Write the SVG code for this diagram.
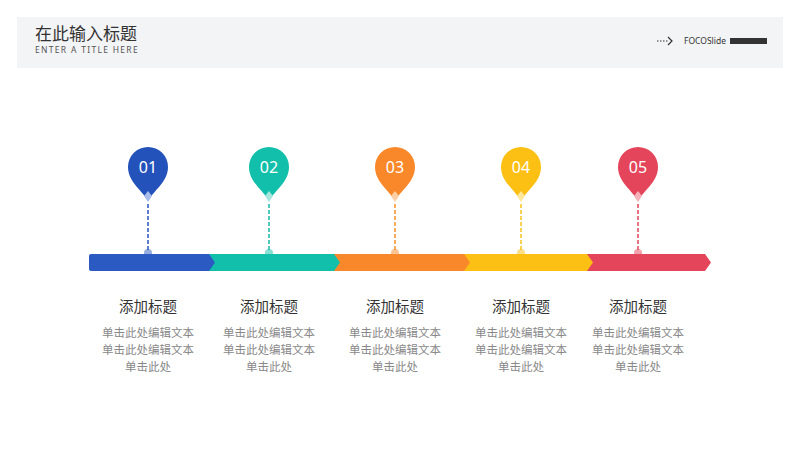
<svg xmlns="http://www.w3.org/2000/svg" width="800" height="450" viewBox="0 0 800 450">
<defs>
<style>
.t{font-family:"Noto Sans CJK SC","Noto Sans",sans-serif}
.num{font-family:"Noto Sans","Open Sans",sans-serif;font-size:16px;fill:#fff;text-anchor:middle}
.h{font-size:14.5px;fill:#333;text-anchor:middle}
.d{font-size:11.5px;fill:#888;text-anchor:middle}
.dash{stroke-width:1.5;stroke-dasharray:4 2}
</style>
<path id="pin" d="M0,201 C-6,190 -20,182 -20,167 A20,20 0 1 1 20,167 C20,182 6,190 0,201 Z"/>
<path id="dia" d="M0,191 L4,196 L0,202 L-4,196 Z"/>
</defs>
<rect width="800" height="450" fill="#fff"/>
<rect x="17" y="17" width="766" height="51" fill="#f3f4f6"/>
<text class="t" x="35" y="40" font-size="17" fill="#333">在此输入标题</text>
<text x="35" y="53" font-family="Noto Sans,sans-serif" font-size="8.5" letter-spacing="1.3" fill="#555">ENTER A TITLE HERE</text>
<g id="logo">
<line x1="657" y1="41" x2="668" y2="41" stroke="#333" stroke-dasharray="1.5 1.5"/>
<path d="M668,37 L672,41 L668,45" fill="none" stroke="#333" stroke-width="1.2"/>
<text x="684" y="44" font-family="Noto Sans,sans-serif" font-size="8.5" fill="#333">FOCOSlide</text>
<rect x="730" y="38" width="37" height="6" fill="#333"/>
</g>
<g id="connectors">
<line class="dash" x1="148" y1="204" x2="148" y2="250" stroke="#2a56c0"/>
<line class="dash" x1="269" y1="204" x2="269" y2="250" stroke="#17b7a8"/>
<line class="dash" x1="395" y1="204" x2="395" y2="250" stroke="#f9912a"/>
<line class="dash" x1="521" y1="204" x2="521" y2="250" stroke="#f8c31c"/>
<line class="dash" x1="638" y1="204" x2="638" y2="250" stroke="#e4455a"/>
</g>
<g id="bar">
<path d="M585,254 L705,254 L711,262.5 L705,271 L585,271 Z" fill="#e4455a"/>
<path d="M460,254 L587,254 L593,262.5 L587,271 L460,271 Z" fill="#fcc015"/>
<path d="M333,254 L464,254 L470,262.5 L464,271 L333,271 Z" fill="#f9882a"/>
<path d="M205,254 L334,254 L340,262.5 L334,271 L205,271 Z" fill="#12bfaa"/>
<path d="M91,254 L209,254 L215,262.5 L209,271 L91,271 Q89,271 89,269 L89,256 Q89,254 91,254 Z" fill="#2b5ac2"/>
<g fill-opacity="0.5">
<circle cx="148" cy="253" r="4" fill="#2b5ac2"/><circle cx="269" cy="253" r="4" fill="#12bfaa"/><circle cx="395" cy="253" r="4" fill="#f9882a"/><circle cx="521" cy="253" r="4" fill="#fcc015"/><circle cx="638" cy="253" r="4" fill="#e4455a"/>
</g>
</g>
<g id="n1" transform="translate(148,0)"><use href="#pin" fill="#2352bb"/><use href="#dia" fill="#a9bdea"/><text class="num" y="173">01</text>
<text class="t h" y="312">添加标题</text><text class="t d" y="337">单击此处编辑文本</text><text class="t d" y="354">单击此处编辑文本</text><text class="t d" y="371">单击此处</text></g>
<g id="n2" transform="translate(269,0)"><use href="#pin" fill="#12bfaa"/><use href="#dia" fill="#a6e6de"/><text class="num" y="173">02</text>
<text class="t h" y="312">添加标题</text><text class="t d" y="337">单击此处编辑文本</text><text class="t d" y="354">单击此处编辑文本</text><text class="t d" y="371">单击此处</text></g>
<g id="n3" transform="translate(395,0)"><use href="#pin" fill="#f9882a"/><use href="#dia" fill="#fcd0a4"/><text class="num" y="173">03</text>
<text class="t h" y="312">添加标题</text><text class="t d" y="337">单击此处编辑文本</text><text class="t d" y="354">单击此处编辑文本</text><text class="t d" y="371">单击此处</text></g>
<g id="n4" transform="translate(521,0)"><use href="#pin" fill="#fcc015"/><use href="#dia" fill="#fde79a"/><text class="num" y="173">04</text>
<text class="t h" y="312">添加标题</text><text class="t d" y="337">单击此处编辑文本</text><text class="t d" y="354">单击此处编辑文本</text><text class="t d" y="371">单击此处</text></g>
<g id="n5" transform="translate(638,0)"><use href="#pin" fill="#e4455a"/><use href="#dia" fill="#f4b2bb"/><text class="num" y="173">05</text>
<text class="t h" y="312">添加标题</text><text class="t d" y="337">单击此处编辑文本</text><text class="t d" y="354">单击此处编辑文本</text><text class="t d" y="371">单击此处</text></g>
</svg>
